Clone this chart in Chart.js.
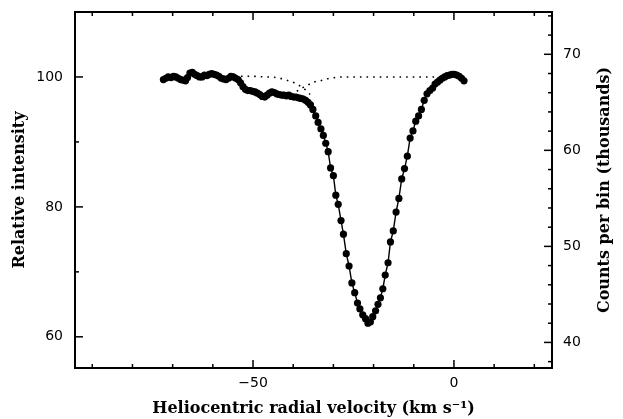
<!DOCTYPE html>
<html>
<head>
<meta charset="utf-8">
<script src="https://cdn.jsdelivr.net/npm/chart.js@4"></script>
<style>
html,body{margin:0;padding:0;background:#fff;}
#wrap{width:623px;height:419px;}
</style>
</head>
<body>
<div id="wrap"><canvas id="c" width="623" height="419"></canvas></div>
<script>
// ---- data ----
const velocity = [-72.3,-71.7,-71.1,-70.4,-69.8,-69.2,-68.6,-68.0,-67.4,-66.8,-66.3,-65.7,-65.1,-64.5,-63.9,-63.3,-62.7,-62.1,-61.5,-60.9,-60.3,-59.7,-59.1,-58.5,-57.9,-57.3,-56.7,-56.1,-55.5,-54.9,-54.3,-53.7,-53.1,-52.5,-51.9,-51.3,-50.7,-50.1,-49.5,-48.9,-48.3,-47.7,-47.1,-46.5,-45.9,-45.3,-44.7,-44.1,-43.5,-42.9,-42.3,-41.7,-41.1,-40.5,-39.9,-39.3,-38.7,-38.1,-37.5,-36.9,-36.3,-35.7,-35.1,-34.4,-33.8,-33.1,-32.5,-31.9,-31.3,-30.7,-30.0,-29.4,-28.8,-28.1,-27.5,-26.8,-26.1,-25.4,-24.7,-24.0,-23.4,-22.7,-22.0,-21.4,-20.8,-20.2,-19.5,-18.9,-18.3,-17.7,-17.1,-16.4,-15.8,-15.1,-14.4,-13.7,-13.0,-12.3,-11.6,-10.9,-10.2,-9.5,-8.8,-8.1,-7.4,-6.7,-6.0,-5.3,-4.7,-4.1,-3.5,-2.9,-2.3,-1.7,-1.1,-0.5,0.1,0.7,1.3,1.9,2.5];
const intensity = [99.6,99.8,100.0,99.9,100.1,100.0,99.8,99.6,99.5,99.4,99.9,100.6,100.7,100.4,100.2,100.0,100.0,100.3,100.2,100.4,100.5,100.4,100.3,100.1,99.8,99.7,99.6,99.8,100.1,100.0,99.8,99.6,99.1,98.5,98.1,97.9,97.9,97.8,97.7,97.5,97.3,97.0,96.9,97.2,97.5,97.7,97.6,97.4,97.3,97.2,97.2,97.1,97.2,97.0,96.9,96.9,96.8,96.7,96.6,96.4,96.1,95.7,95.0,94.0,93.0,92.0,91.0,89.8,88.5,86.0,84.8,81.8,80.4,77.9,75.8,72.8,70.9,68.3,66.8,65.2,64.3,63.4,62.8,62.1,62.3,63.1,64.0,65.0,66.0,67.4,69.5,71.4,74.6,76.3,79.2,81.3,84.3,85.9,87.8,90.6,91.7,93.2,94.0,95.0,96.4,97.4,97.9,98.3,98.9,99.2,99.5,99.8,100.0,100.2,100.3,100.4,100.4,100.3,100.1,99.8,99.4];
// dotted model curves
const fit1Velocity = [-53,-50,-47,-45,-43.3,-41.6,-40.1,-38.8,-37.5,-36.6,-35.8];
const fit1Intensity = [100.1,100.1,100.0,99.96,99.8,99.5,99.2,98.8,98.3,97.8,97.3];
const fit2Velocity = [-39.1,-37.5,-36.2,-35.0,-33.3,-31.7,-29.6,-28.0,-25.0,-15.0,-5.0,-3.0];
const fit2Intensity = [97.8,98.4,98.8,99.2,99.4,99.7,99.9,100.0,100.0,100.0,100.0,100.0];
// axes / ticks
const xLabelTicks = [-50, 0];
const xMinorTicks = [-90,-80,-70,-60,-40,-30,-20,-10,10,20];
const yLabelTicks = [60, 80, 100];
const yMinorTicks = [70, 90];
const y2LabelTicks = [40, 50, 60, 70];
const y2MinorTicks = [38,42,44,46,48,52,54,56,58,62,64,66,68,72,74];
const countsPerPercent = 0.6764; // thousands of counts per 1% relative intensity
const xTitle = 'Heliocentric radial velocity (km s\u207B\u00B9)';
const yTitle = 'Relative intensity';
const y2Title = 'Counts per bin (thousands)';

const toPts = (xs, ys) => xs.map((v, i) => ({x: v, y: ys[i]}));
const yMin = 55.2, yMax = 110;

const tickPlugin = {
  id: 'innerTicks',
  afterDraw(chart) {
    const ctx = chart.ctx;
    const a = chart.chartArea;
    const sx = chart.scales.x, sy = chart.scales.y, sy2 = chart.scales.y2;
    ctx.save();
    ctx.strokeStyle = '#000';
    ctx.lineWidth = 1.5;
    const seg = (x1, y1, x2, y2) => { ctx.beginPath(); ctx.moveTo(x1, y1); ctx.lineTo(x2, y2); ctx.stroke(); };
    xLabelTicks.forEach(v => { const p = sx.getPixelForValue(v); seg(p, a.bottom, p, a.bottom - 8); seg(p, a.top, p, a.top + 8); });
    xMinorTicks.forEach(v => { const p = sx.getPixelForValue(v); seg(p, a.bottom, p, a.bottom - 4); seg(p, a.top, p, a.top + 4); });
    yLabelTicks.forEach(v => { const p = sy.getPixelForValue(v); seg(a.left, p, a.left + 8, p); });
    yMinorTicks.forEach(v => { const p = sy.getPixelForValue(v); seg(a.left, p, a.left + 4, p); });
    y2LabelTicks.forEach(v => { const p = sy2.getPixelForValue(v); seg(a.right, p, a.right - 8, p); });
    y2MinorTicks.forEach(v => { const p = sy2.getPixelForValue(v); seg(a.right, p, a.right - 4, p); });
    // right axis title (reads bottom to top, like the left one)
    ctx.fillStyle = '#000';
    ctx.font = 'bold 16px "DejaVu Serif"';
    ctx.textAlign = 'center';
    ctx.textBaseline = 'middle';
    ctx.translate(605, (a.top + a.bottom) / 2);
    ctx.rotate(-Math.PI / 2);
    ctx.fillText(y2Title, 0, 0);
    ctx.restore();
  }
};

const tickFont = {family: '"DejaVu Sans"', size: 14};
const titleFont = {family: '"DejaVu Serif"', size: 16, weight: 'bold'};
const fmt = v => (v < 0 ? '\u2212' + Math.abs(v) : String(v));
const noPad = s => { s.paddingTop = 0; s.paddingBottom = 0; s.paddingLeft = 0; s.paddingRight = 0; };

new Chart(document.getElementById('c'), {
  type: 'scatter',
  data: {
    datasets: [
      {
        data: toPts(velocity, intensity),
        showLine: true,
        borderColor: '#000',
        backgroundColor: '#000',
        borderWidth: 1.4,
        pointRadius: 3.6,
        pointBorderWidth: 0,
        pointBackgroundColor: '#000',
        yAxisID: 'y'
      },
      {
        data: toPts(fit1Velocity, fit1Intensity),
        showLine: true,
        borderColor: '#000',
        borderWidth: 1.6,
        borderDash: [1.6, 5],
        pointRadius: 0,
        cubicInterpolationMode: 'monotone',
        yAxisID: 'y'
      },
      {
        data: toPts(fit2Velocity, fit2Intensity),
        showLine: true,
        borderColor: '#000',
        borderWidth: 1.6,
        borderDash: [1.6, 5],
        pointRadius: 0,
        cubicInterpolationMode: 'monotone',
        yAxisID: 'y'
      }
    ]
  },
  options: {
    responsive: false,
    animation: false,
    devicePixelRatio: 1,
    layout: {padding: 0},
    plugins: {legend: {display: false}, tooltip: {enabled: false}},
    scales: {
      x: {
        type: 'linear', position: 'bottom', min: -94.3, max: 24.4,
        afterBuildTicks: s => { s.ticks = xLabelTicks.map(v => ({value: v})); },
        afterFit: s => { s.height = 51; noPad(s); },
        grid: {display: false, drawTicks: false},
        border: {display: true, color: '#000', width: 2},
        ticks: {color: '#000', font: tickFont, padding: 7, maxRotation: 0, callback: fmt},
        title: {display: true, text: xTitle, color: '#000', font: titleFont, padding: {top: 0, bottom: 0.5}}
      },
      x2: {
        type: 'linear', position: 'top', min: -94.3, max: 24.4,
        afterFit: s => { s.height = 12; noPad(s); },
        grid: {display: false, drawTicks: false},
        border: {display: true, color: '#000', width: 2},
        ticks: {display: false}
      },
      y: {
        type: 'linear', position: 'left', min: yMin, max: yMax,
        afterBuildTicks: s => { s.ticks = yLabelTicks.map(v => ({value: v})); },
        afterFit: s => { s.width = 75; noPad(s); },
        grid: {display: false, drawTicks: false},
        border: {display: true, color: '#000', width: 2},
        ticks: {color: '#000', font: tickFont, padding: 12, callback: fmt},
        title: {display: true, text: yTitle, color: '#000', font: titleFont, padding: {top: 10.4, bottom: 0}}
      },
      y2: {
        type: 'linear', position: 'right', min: yMin * countsPerPercent, max: yMax * countsPerPercent,
        afterBuildTicks: s => { s.ticks = y2LabelTicks.map(v => ({value: v})); },
        afterFit: s => { s.width = 71; noPad(s); },
        grid: {display: false, drawTicks: false},
        border: {display: true, color: '#000', width: 2},
        ticks: {color: '#000', font: tickFont, padding: 11, callback: fmt}
      }
    }
  },
  plugins: [tickPlugin]
});
</script>
</body>
</html>
